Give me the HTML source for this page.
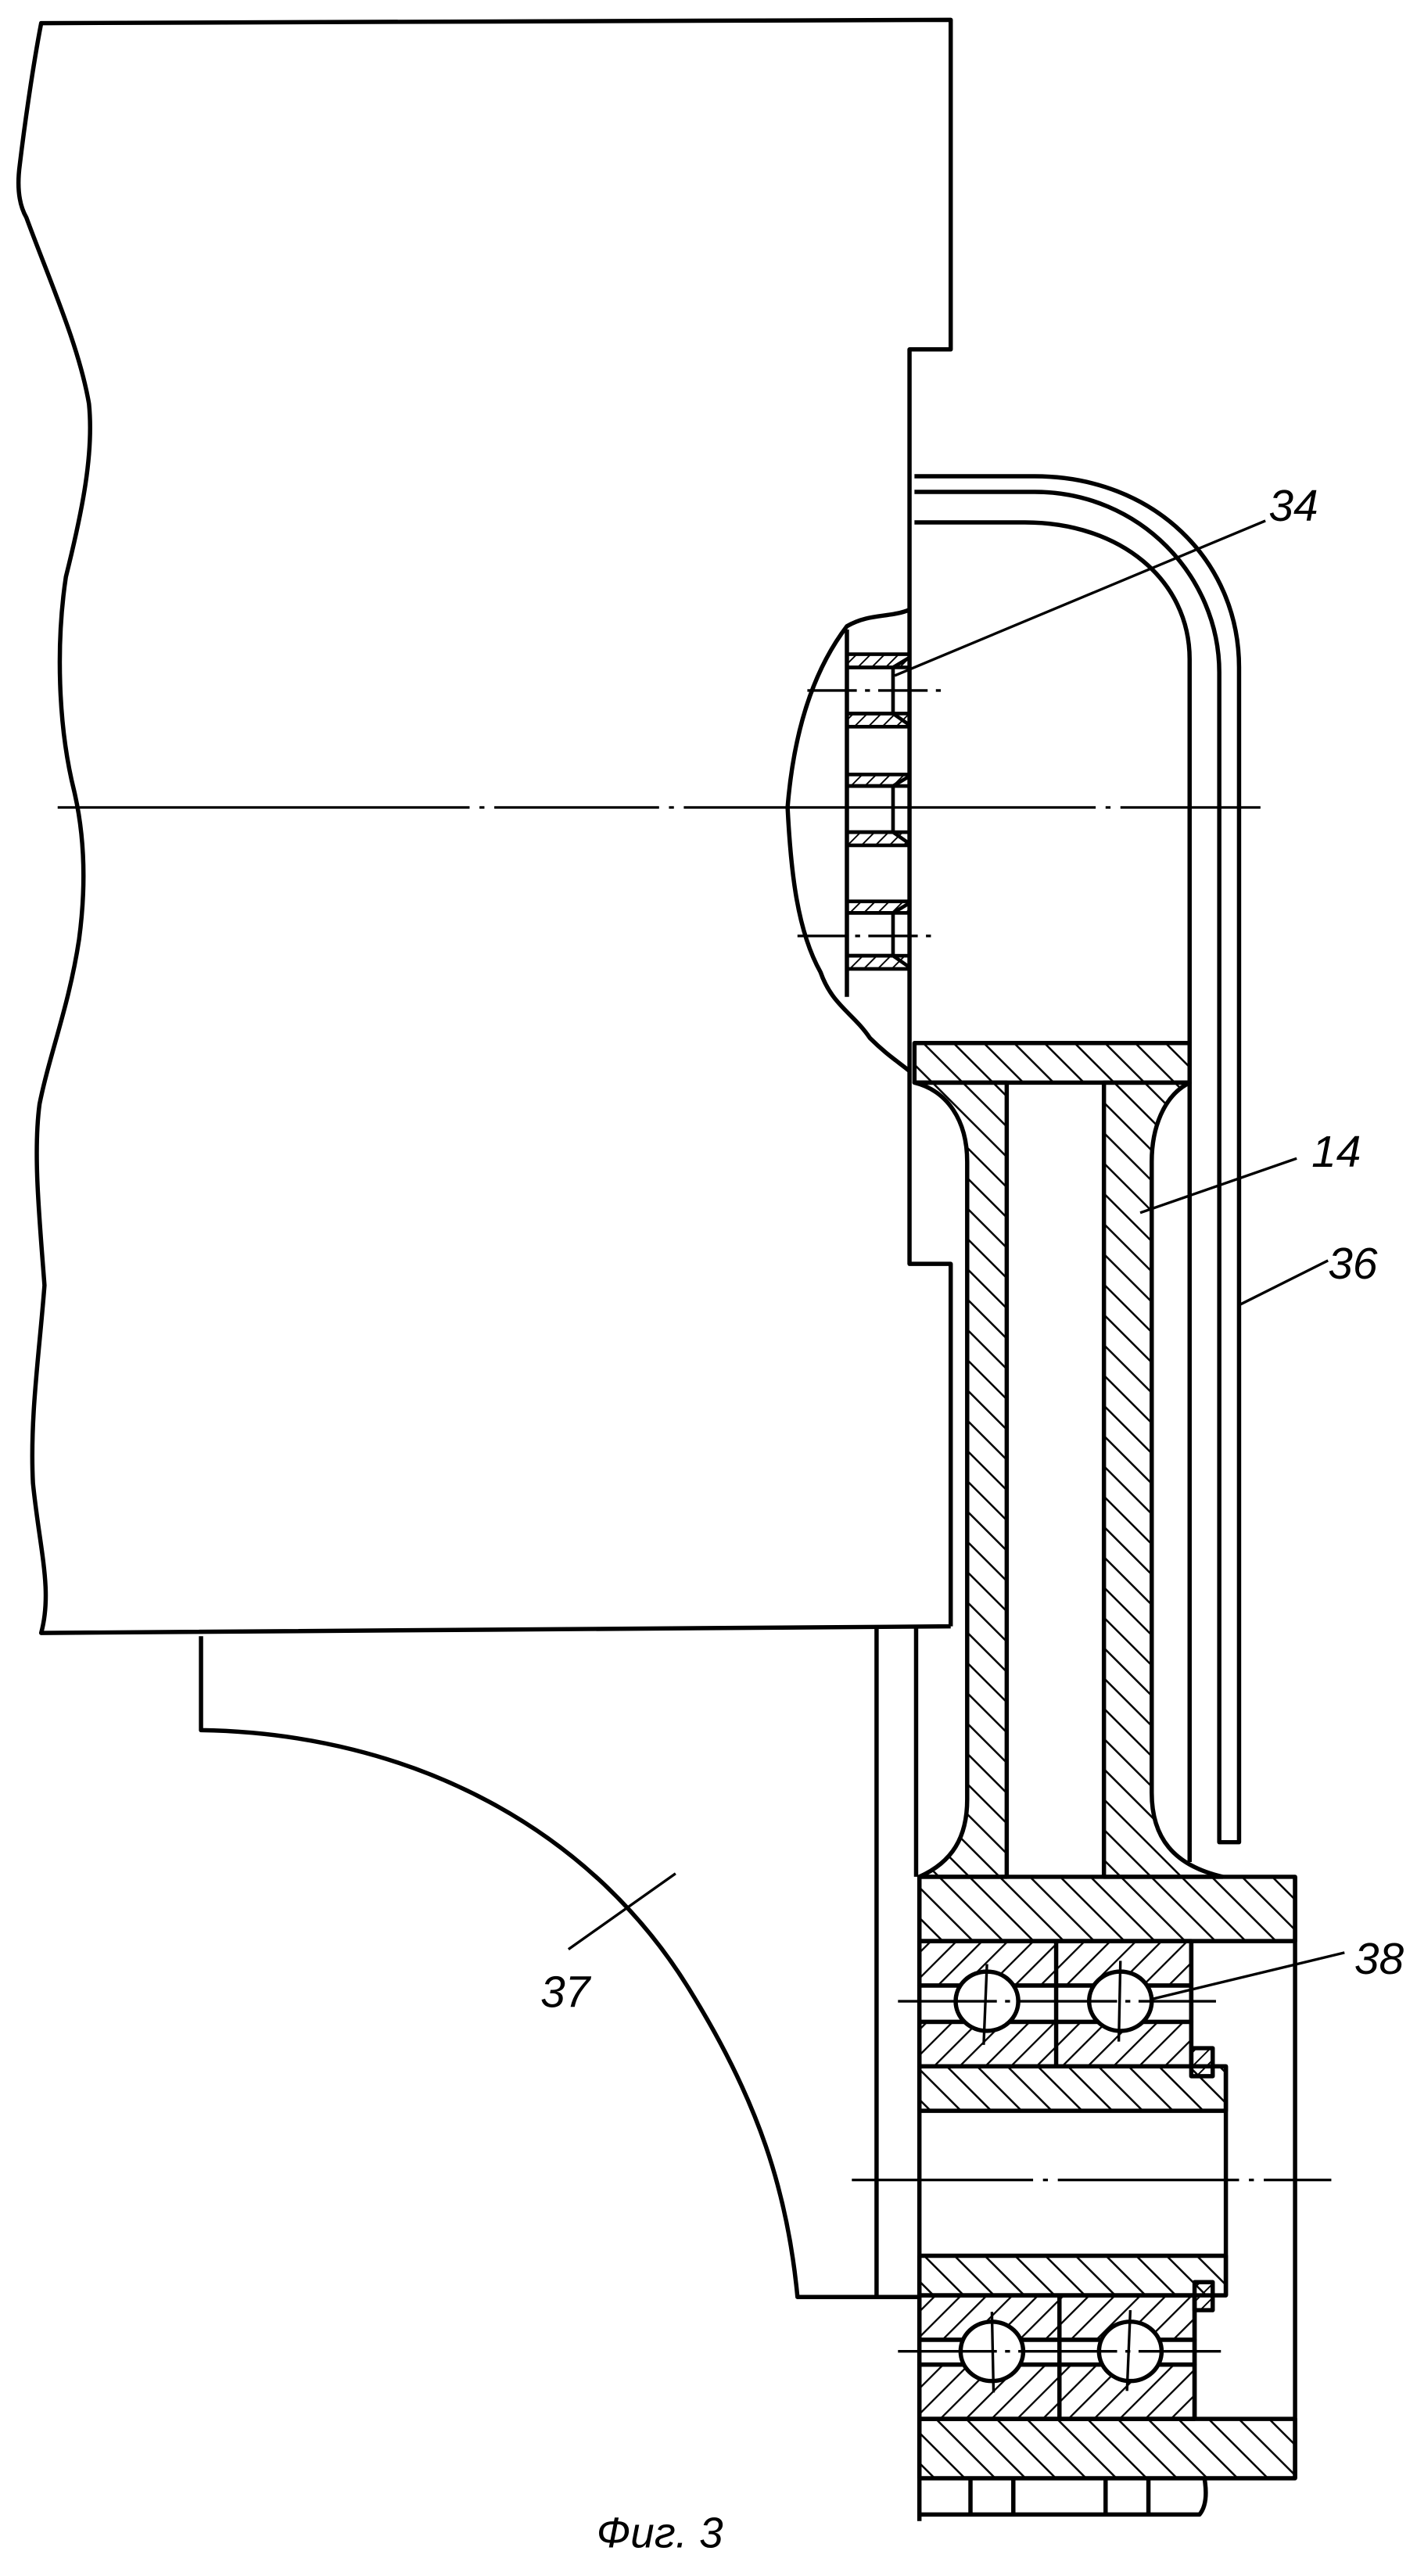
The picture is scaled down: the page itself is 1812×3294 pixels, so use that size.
<!DOCTYPE html>
<html><head><meta charset="utf-8"><style>
html,body{margin:0;padding:0;background:#fff}
svg{display:block}
text{font-family:"Liberation Sans",sans-serif;font-style:italic;fill:#000}
</style></head><body>
<svg width="1812" height="3294" viewBox="0 0 860 1563.3" xmlns="http://www.w3.org/2000/svg">
<defs>
<pattern id="hb" patternUnits="userSpaceOnUse" width="13" height="13" patternTransform="rotate(-45)"><line x1="0" y1="0" x2="0" y2="13" stroke="#000" stroke-width="2.4"/></pattern>
<pattern id="hf" patternUnits="userSpaceOnUse" width="11" height="11" patternTransform="rotate(45)"><line x1="0" y1="0" x2="0" y2="11" stroke="#000" stroke-width="2.2"/></pattern>
<pattern id="hs" patternUnits="userSpaceOnUse" width="6" height="6" patternTransform="rotate(45)"><line x1="0" y1="0" x2="0" y2="6" stroke="#000" stroke-width="1.8"/></pattern>
</defs>
<rect width="860" height="1563.3" fill="#fff"/>
<g fill="none" stroke="#000" stroke-width="2.6" stroke-linejoin="round">
<path d="M577 987 L577 767 L552 767 L552 212 L577 212 L577 12 L25 14 C20 40 15 75 12 100 C10 115 12 125 16 132 C30 170 48 210 54 245 C57 275 50 310 40 350 C34 390 35 440 45 480 C52 510 52 540 48 570 C42 610 30 640 24 670 C20 700 24 740 27 780 C24 820 18 860 20 900 C24 940 32 965 25 991 L577 987"/>
<path d="M552 370 C540 375 528 372 514 380 C495 405 482 440 478 490 C480 530 484 565 498 590 C505 610 518 615 528 630 C538 640 546 645 552 650"/>
<line x1="514" y1="382" x2="514" y2="605"/>
<path d="M555 289 L628 289 C700 289 752 340 752 405 L752 1118 L740 1118 L740 408 C740 350 692 298.5 628 298.5 L555 298.5"/>
<path d="M555 317 L622 317 C680 317 722 352 722 400 L722 633"/>
<rect x="555" y="633" width="167" height="24" fill="url(#hb)"/>
<path d="M555 657 L611 657 L611 1139 L558 1139 C578 1130 587 1115 587 1092 L587 705 C587 680 575 662 555 657 Z" fill="url(#hb)"/>
<path d="M670 657 L722 657 C706 665 699 685 699 705 L699 1088 C699 1115 712 1132 742 1139 L670 1139 Z" fill="url(#hb)"/>
<line x1="722" y1="657" x2="722" y2="1130"/>
<path d="M122 993 L122 1050 C250 1052 360 1110 420 1210 C460 1275 478 1330 484 1394 L558 1394"/>
<line x1="532" y1="988" x2="532" y2="1394"/>
<line x1="556" y1="987" x2="556" y2="1139"/>
<rect x="558" y="1139" width="228" height="39" fill="url(#hb)"/>
<rect x="558" y="1468" width="228" height="36" fill="url(#hb)"/>
<line x1="786" y1="1139" x2="786" y2="1504"/>
<line x1="558" y1="1139" x2="558" y2="1530"/>
<rect x="558" y="1178" width="165" height="27" fill="url(#hf)"/>
<rect x="558" y="1227" width="165" height="27" fill="url(#hf)"/>
<rect x="558" y="1205" width="165" height="22" fill="#fff"/>
<line x1="723" y1="1178" x2="723" y2="1254"/>
<line x1="641" y1="1178" x2="641" y2="1254"/>
<ellipse cx="599" cy="1214.5" rx="19" ry="18" fill="#fff"/>
<ellipse cx="680" cy="1214.5" rx="19" ry="18" fill="#fff"/>
<rect x="558" y="1254" width="186" height="27" fill="url(#hb)"/>
<rect x="558" y="1369" width="186" height="24" fill="url(#hb)"/>
<line x1="744" y1="1254" x2="744" y2="1393"/>
<rect x="723" y="1243" width="13" height="17" fill="url(#hs)"/>
<rect x="725" y="1385" width="11" height="17" fill="url(#hs)"/>
<rect x="558" y="1393" width="167" height="27" fill="url(#hf)"/>
<rect x="558" y="1435" width="167" height="33" fill="url(#hf)"/>
<rect x="558" y="1420" width="167" height="15" fill="#fff"/>
<line x1="725" y1="1393" x2="725" y2="1468"/>
<line x1="643" y1="1393" x2="643" y2="1468"/>
<ellipse cx="602" cy="1427" rx="19" ry="18" fill="#fff"/>
<ellipse cx="686" cy="1427" rx="19" ry="18" fill="#fff"/>
<path d="M558 1526 L728 1526 C733 1520 732 1510 731 1504"/>
<line x1="589" y1="1504" x2="589" y2="1526"/>
<line x1="615" y1="1504" x2="615" y2="1526"/>
<line x1="671" y1="1504" x2="671" y2="1526"/>
<line x1="697" y1="1504" x2="697" y2="1526"/>
</g>
<g stroke="#000" stroke-width="2.2" fill="none">
<rect x="514" y="397" width="38" height="8" fill="url(#hs)"/>
<rect x="514" y="433" width="38" height="8" fill="url(#hs)"/>
<path d="M514 405 L542 405 L542 433 L514 433 M542 405 L552 399 M542 433 L552 440"/>
<rect x="514" y="470" width="38" height="7" fill="url(#hs)"/>
<rect x="514" y="505" width="38" height="8" fill="url(#hs)"/>
<path d="M514 477 L542 477 L542 505 L514 505 M542 477 L552 471 M542 505 L552 512"/>
<rect x="514" y="547" width="38" height="7" fill="url(#hs)"/>
<rect x="514" y="580" width="38" height="8" fill="url(#hs)"/>
<path d="M514 554 L542 554 L542 580 L514 580 M542 554 L552 548 M542 580 L552 587"/>
</g>
<g stroke="#000" stroke-width="1.6" fill="none">
<line x1="35" y1="490" x2="765" y2="490" stroke-dasharray="250 6 3 6 100 6 3 6"/>
<line x1="490" y1="419" x2="572" y2="419" stroke-dasharray="30 5 3 5"/>
<line x1="484" y1="568" x2="565" y2="568" stroke-dasharray="30 5 3 5"/>
<line x1="517" y1="1323" x2="808" y2="1323" stroke-dasharray="110 6 3 6"/>
<line x1="545" y1="1214.5" x2="738" y2="1214.5" stroke-dasharray="60 5 3 5"/>
<line x1="545" y1="1427" x2="741" y2="1427" stroke-dasharray="60 5 3 5"/>
<line x1="599" y1="1192" x2="597" y2="1241"/>
<line x1="680" y1="1190" x2="679" y2="1239"/>
<line x1="602" y1="1403" x2="603" y2="1452"/>
<line x1="686" y1="1402" x2="684" y2="1451"/>
</g>
<g stroke="#000" stroke-width="1.6">
<line x1="768" y1="316" x2="543" y2="410"/>
<line x1="787" y1="703" x2="692" y2="736"/>
<line x1="806" y1="765" x2="752" y2="792"/>
<line x1="816" y1="1185" x2="700" y2="1213"/>
<line x1="345" y1="1183" x2="410" y2="1137"/>
</g>
<text x="770" y="316" font-size="27">34</text>
<text x="796" y="708" font-size="27">14</text>
<text x="806" y="776" font-size="27">36</text>
<text x="822" y="1198" font-size="27">38</text>
<text x="328" y="1218" font-size="27">37</text>
<text x="362" y="1546" font-size="26">Фиг. 3</text>
</svg>
</body></html>
